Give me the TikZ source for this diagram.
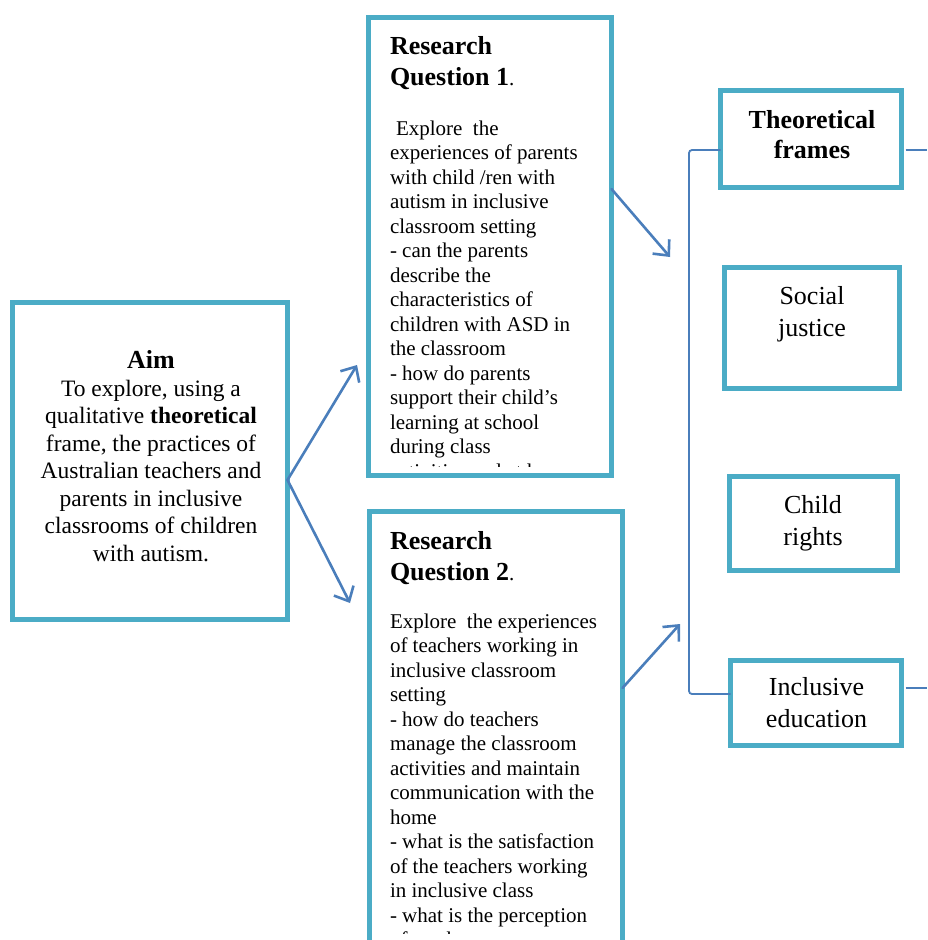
\documentclass[tikz,border=0pt]{standalone}
\usepackage{fontspec}
\setmainfont{Liberation Serif}
\usetikzlibrary{arrows.meta,calc}
\definecolor{frameteal}{RGB}{75,172,198}
\definecolor{linkblue}{RGB}{74,126,187}

\begin{document}
\begin{tikzpicture}[x=1pt,y=-1pt,
  box/.style={draw=frameteal,line width=5pt,rectangle,inner sep=0pt,outer sep=0pt,fill=white},
  txt/.style={inner sep=0pt,outer sep=0pt,text=black},
  link/.style={draw=linkblue,line width=2.6pt,line cap=round,-{Straight Barb[length=12pt,width=22pt]}},
  brace/.style={draw=linkblue,line width=1.8pt,rounded corners=3pt},
  body/.style={font=\fontsize{21}{24.5}\selectfont},
  head/.style={font=\fontsize{26}{31}\selectfont\bfseries},
  label/.style={font=\fontsize{26}{32}\selectfont},
]
\clip (0,0) rectangle (927,940);

% frames
\node[box,minimum width=275pt,minimum height=317pt] (aim) at (150,461) {};
\node[box,minimum width=243pt,minimum height=458pt] (rq1) at (490,246.5) {};
\node[box,minimum width=253pt,minimum height=500pt] (rq2) at (496,761.5) {};
\node[box,minimum width=181pt,minimum height=97pt] (tf) at (811,139) {};
\node[box,minimum width=175pt,minimum height=121pt] (sj) at (812,328) {};
\node[box,minimum width=168pt,minimum height=94pt] (cr) at (813.5,523.5) {};
\node[box,minimum width=171pt,minimum height=85pt] (ie) at (816,703) {};

% aim (node placed by the baseline of its last line)
\node[txt,align=center,anchor=base,font=\fontsize{23.5}{27.45}\selectfont] (aimtxt) at (151,561)
  {{\fontsize{26}{27.45}\selectfont\bfseries Aim}\\
   To explore, using a\\
   qualitative \textbf{theoretical}\\
   frame, the practices of\\
   Australian teachers and\\
   parents in inclusive\\
   classrooms of children\\
   with autism.};

% research question 1
\node[txt,align=left,anchor=base west,head] (rq1head) at (390,85)
  {Research\\Question 1{\mdseries\fontsize{21}{31}\selectfont .}};
\begin{scope}
  % text area of the frame, inside its inner margin
  \clip ([xshift=2.5pt,yshift=-2.5pt]rq1.north west) rectangle ([xshift=-2.5pt,yshift=9.5pt]rq1.south east);
  \node[txt,align=left,anchor=base west,body] (rq1body) at (390,478)
    {\hspace*{6pt}Explore\ \ the\\
     experiences of parents\\
     with child /ren with\\
     autism in inclusive\\
     classroom setting\\
     - can the parents\\
     describe the\\
     characteristics of\\
     children with ASD in\\
     the classroom\\
     - how do parents\\
     support their child’s\\
     learning at school\\
     during class\\
     activities and at home};
\end{scope}

% research question 2
\node[txt,align=left,anchor=base west,head] (rq2head) at (390,580)
  {Research\\Question 2{\mdseries\fontsize{21}{31}\selectfont .}};
\begin{scope}
  \clip (rq2.north west) rectangle ([yshift=-422pt]rq2.north east);
  \node[txt,align=left,anchor=base west,body] (rq2body) at (390,946.5)
    {Explore\ \ the experiences\\
     of teachers working in\\
     inclusive classroom\\
     setting\\
     - how do teachers\\
     manage the classroom\\
     activities and maintain\\
     communication with the\\
     home\\
     - what is the satisfaction\\
     of the teachers working\\
     in inclusive class\\
     - what is the perception\\
     of teachers on parents};
\end{scope}

% theoretical frames
\node[txt,align=center,anchor=base,font=\fontsize{26}{30}\selectfont\bfseries] (tftxt) at (812,158) {Theoretical\\frames};
\node[txt,align=center,anchor=base,label] (sjtxt) at (812,336) {Social\\justice};
\node[txt,align=center,anchor=base,label] (crtxt) at (813,545) {Child\\rights};
\node[txt,align=center,anchor=base,label] (ietxt) at (816.5,727) {Inclusive\\education};

% arrows
\coordinate (aimout) at ([yshift=-19pt]aim.east);
\coordinate (tip1) at (357,365);
\coordinate (tip2) at (350,603);
\coordinate (tip3) at (670,257);
\coordinate (tip4) at (680,624);
\draw[link] (aimout) -- (tip1);
\draw[link] (aimout) -- (tip2);
\draw[link] ([yshift=57.5pt]rq1.east) -- (tip3);
\draw[link] ([yshift=73.5pt]rq2.east) -- (tip4);

% bracket joining the frames
\coordinate (spine) at (689,400);
\draw[brace] ([yshift=-11pt]tf.west) -| (spine) |- ([yshift=9pt]ie.west);
\coordinate (tfR) at (927,150);
\coordinate (ieR) at (927,688);
\draw[brace] ([xshift=4pt,yshift=-11pt]tf.east) -- (tfR);
\draw[brace] ([xshift=4pt,yshift=15pt]ie.east) -- (ieR);
\end{tikzpicture}
\end{document}
